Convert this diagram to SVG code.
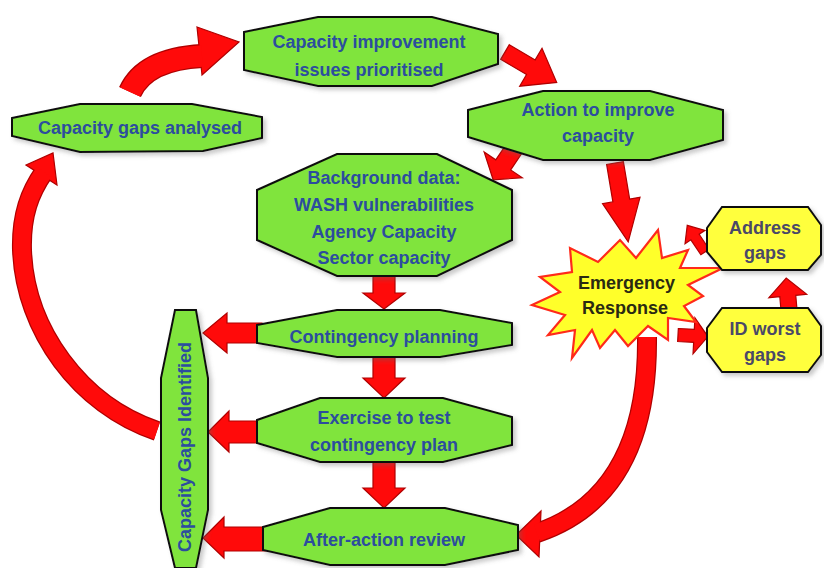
<svg xmlns="http://www.w3.org/2000/svg" width="824" height="568" viewBox="0 0 824 568">
  <defs>
    <filter id="shadow" x="-10%" y="-10%" width="130%" height="140%">
      <feDropShadow dx="3" dy="3" stdDeviation="2.2" flood-color="#666" flood-opacity="0.35"/>
    </filter>
    <style>
      .box { fill: #80e43c; stroke: #111; stroke-width: 2; stroke-linejoin: miter; filter: url(#shadow); }
      .ybox { fill: #ffff3c; stroke: #111; stroke-width: 2; filter: url(#shadow); }
      .star { fill: #ffff2a; stroke: #ff2a1a; stroke-width: 2.2; stroke-linejoin: miter; }
      .lbl { font-family: "Liberation Sans", Arial, sans-serif; font-weight: bold; font-size: 18px; fill: #2c4d9e; text-anchor: middle; dominant-baseline: central; }
      .ylbl { font-family: "Liberation Sans", Arial, sans-serif; font-weight: bold; font-size: 18px; fill: #4a4868; text-anchor: middle; dominant-baseline: central; }
      .slbl { font-family: "Liberation Sans", Arial, sans-serif; font-weight: bold; font-size: 18px; fill: #2a2a12; dominant-baseline: central; }
      .arr { fill: #ff0a0a; stroke: #b00000; stroke-width: 1.2; stroke-linejoin: miter; }
      .shaft-o { fill: none; stroke: #b00000; stroke-linecap: butt; }
      .shaft-i { fill: none; stroke: #ff0a0a; stroke-linecap: butt; }
    </style>
  </defs>
  <rect width="824" height="568" fill="#ffffff"/>

  <!-- connectors -->
  <g id="connectors">
    <!-- gaps analysed -> improvement issues prioritised (curved) -->
    <path class="shaft-o" stroke-width="24" d="M130,92 C140,70 165,58 202,56"/>
    <polygon class="arr" points="197,27 239,42 202,75"/>
    <path class="shaft-i" stroke-width="21.5" d="M130,92 C140,70 165,58 202,56"/>

    <!-- prioritised -> action -->
    <path class="arr" transform="translate(505,52) rotate(30.5)" d="M0,-8.5 H30 V-22 L60,0 L30,22 V8.5 H0 Z"/>

    <!-- action -> background data -->
    <path class="arr" transform="translate(520,140) rotate(124)" d="M0,-9 H30 V-23 L48,0 L30,23 V9 H0 Z"/>

    <!-- action -> emergency response -->
    <path class="arr" transform="translate(615,163) rotate(80.5)" d="M0,-8.5 H38 V-19 L80,0 L38,19 V8.5 H0 Z"/>

    <!-- emergency response -> address gaps / ID worst gaps -->
    <path class="arr" transform="translate(705,252) rotate(-123.7)" d="M0,-5 H18 V-12 L32,0 L18,12 V5 H0 Z"/>
    <path class="arr" transform="translate(678,335) rotate(3)" d="M0,-6.5 H16 V-18 L30,0 L16,18 V6.5 H0 Z"/>
    <!-- ID worst gaps -> address gaps -->
    <path class="arr" transform="translate(789,310) rotate(-95)" d="M0,-8 H14 V-19 L32,0 L14,19 V8 H0 Z"/>

    <!-- emergency response -> after-action review (curved) -->
    <path class="shaft-o" stroke-width="20" d="M647,337 C648,430 620,505 537,533"/>
    <polygon class="arr" points="541,511 516,535 539,557"/>
    <path class="shaft-i" stroke-width="17.5" d="M647,337 C648,430 620,505 537,533"/>

    <!-- gaps identified -> gaps analysed (curved) -->
    <path class="shaft-o" stroke-width="20" d="M157,431 C80,405 25,330 22,250 C21,215 30,192 44,172"/>
    <polygon class="arr" points="26,165 53,153 57,185"/>
    <path class="shaft-i" stroke-width="17.5" d="M157,431 C80,405 25,330 22,250 C21,215 30,192 44,172"/>

    <!-- vertical chain -->
    <polygon class="arr" points="373,270 395,270 395,293 405,293 384,309 363,293 373,293"/>
    <polygon class="arr" points="373,355 395,355 395,378 405,378 384,398 363,378 373,378"/>
    <polygon class="arr" points="373,460 395,460 395,488 405,488 384,508 363,488 373,488"/>

    <!-- into gaps identified -->
    <polygon class="arr" points="262,323 262,343 227,343 227,353 203,333 227,313 227,323"/>
    <polygon class="arr" points="262,421 262,443 229,443 229,452 208,432 229,411 229,421"/>
    <polygon class="arr" points="268,527 268,551 224,551 224,558 203,538 224,517 224,527"/>
  </g>

  <!-- nodes -->
  <g id="prioritised">
    <polygon class="box" points="244,32 318,17 432,17 498,34 498,64 432,86 318,86 244,70"/>
    <text class="lbl" x="369" y="42">Capacity improvement</text>
    <text class="lbl" x="369" y="70">issues prioritised</text>
  </g>

  <g id="analysed">
    <polygon class="box" points="12,118 80,104 192,104 262,117 262,138 203,151 80,152 12,136"/>
    <text class="lbl" x="140" y="128">Capacity gaps analysed</text>
  </g>

  <g id="action">
    <polygon class="box" points="468,110 543,91 650,91 723,110 723,140 650,160 543,160 468,137"/>
    <text class="lbl" x="598" y="110">Action to improve</text>
    <text class="lbl" x="598" y="136">capacity</text>
  </g>

  <g id="background">
    <polygon class="box" points="257,190 337,154 437,154 512,190 512,240 437,276 337,276 257,240"/>
    <text class="lbl" x="384" y="178">Background data:</text>
    <text class="lbl" x="384" y="205">WASH vulnerabilities</text>
    <text class="lbl" x="384" y="232">Agency Capacity</text>
    <text class="lbl" x="384" y="258">Sector capacity</text>
  </g>

  <g id="contingency">
    <polygon class="box" points="257,325 337,310 440,310 512,323 512,345 440,357 337,357 257,343"/>
    <text class="lbl" x="384" y="337">Contingency planning</text>
  </g>

  <g id="exercise">
    <polygon class="box" points="257,420 320,398 443,398 512,417 512,445 443,462 320,462 257,443"/>
    <text class="lbl" x="384" y="418">Exercise to test</text>
    <text class="lbl" x="384" y="445">contingency plan</text>
  </g>

  <g id="review">
    <polygon class="box" points="263,527 330,508 445,508 518,525 518,550 445,565 330,565 263,550"/>
    <text class="lbl" x="384" y="540">After-action review</text>
  </g>

  <g id="identified">
    <polygon class="box" points="175,310 196,310 208,378 208,510 196,568 175,568 161,510 161,378"/>
    <text class="lbl" transform="translate(185,447) rotate(-90)" x="0" y="0">Capacity Gaps Identified</text>
  </g>

  <g id="emergency">
    <polygon class="star" points="532,305 560,292 540,277 572,272 570,248 598,262 620,240 636,258 658,230 662,258 688,250 680,268 723,268 688,285 703,296 684,306 696,322 668,318 668,340 648,326 628,346 615,330 600,348 592,330 572,358 575,330 548,335 565,315"/>
    <text class="slbl" x="578" y="283">Emergency</text>
    <text class="slbl" x="582" y="308">Response</text>
  </g>

  <g id="address">
    <polygon class="ybox" points="707,228 722,207 808,207 821,225 821,255 808,270 722,270 707,252"/>
    <text class="ylbl" x="765" y="228">Address</text>
    <text class="ylbl" x="765" y="253">gaps</text>
  </g>

  <g id="worst">
    <polygon class="ybox" points="707,328 722,308 808,308 821,326 821,355 808,372 722,372 707,352"/>
    <text class="ylbl" x="765" y="329">ID worst</text>
    <text class="ylbl" x="765" y="355">gaps</text>
  </g>
</svg>
